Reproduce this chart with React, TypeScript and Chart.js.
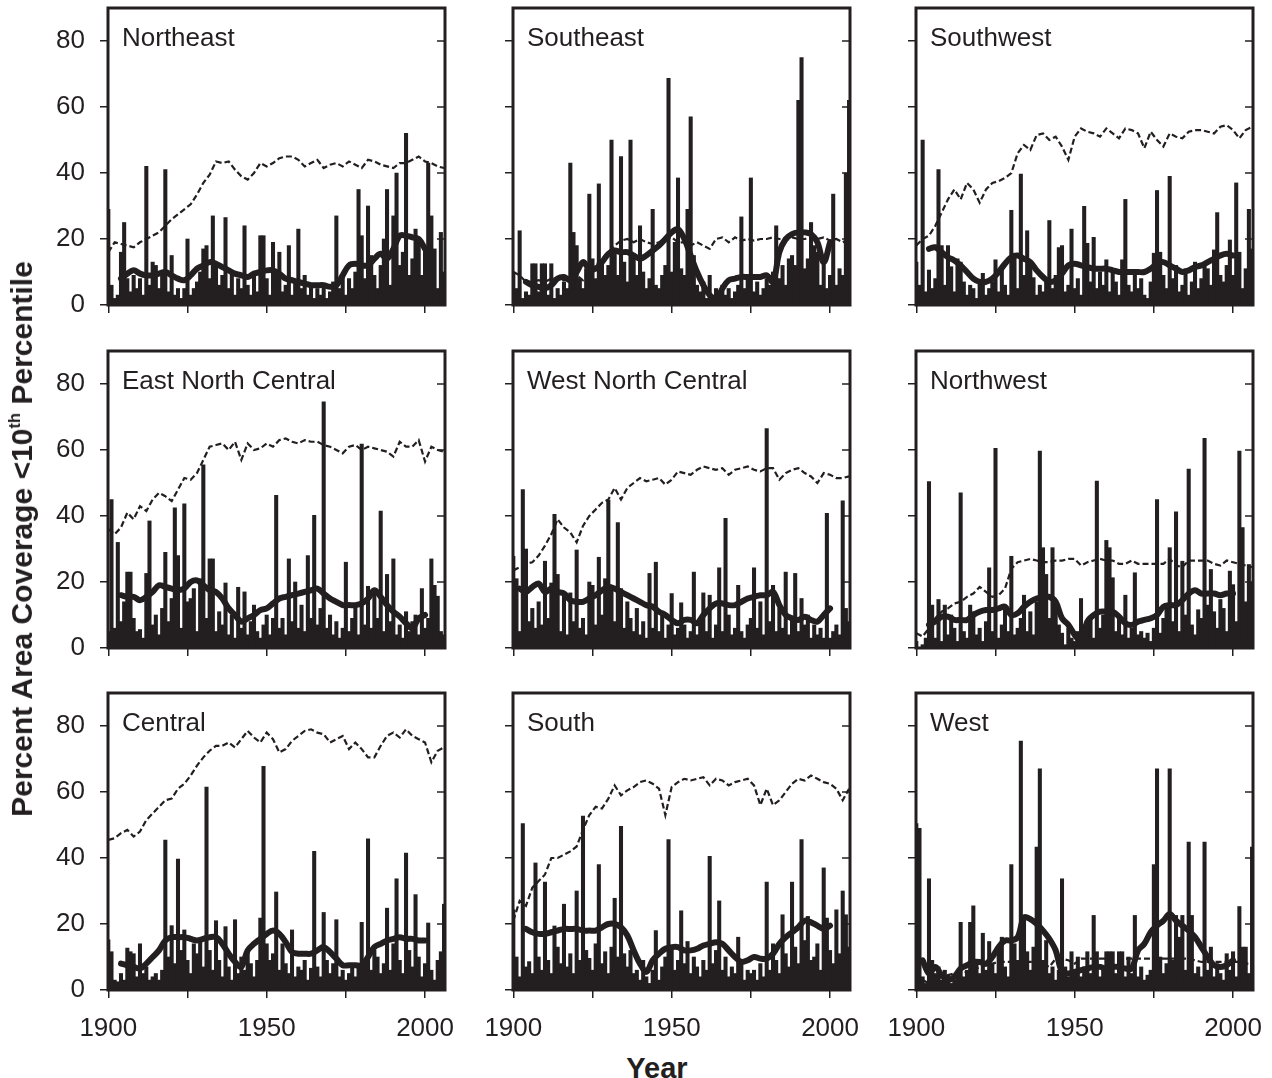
import React, { useEffect, useRef } from 'react';
import { Chart, registerables } from 'chart.js';

Chart.register(...registerables);

const INK = '#231f20';
const FONT = "'Liberation Sans', Arial, Helvetica, sans-serif";

// Categories
const YEARS = Array.from({ length: 107 }, (_, i) => 1900 + i);
const LINE_YEARS = Array.from({ length: 54 }, (_, i) => 1900 + 2 * i);
const X_TICKS = [1900, 1925, 1950, 1975, 2000];
const X_LABELS = [1900, 1950, 2000];
const Y_TICKS = [0, 20, 40, 60, 80];

// ---------- Northeast ----------
const NE_BARS = [
  29, 6, 2, 3, 16, 25, 8, 4, 9, 5,
  8, 3, 42, 6, 13, 12, 5, 9, 41, 4,
  15, 3, 5, 2, 5, 20, 3, 5, 7, 10,
  17, 18, 8, 27, 12, 6, 9, 26.5, 5, 10,
  3, 8, 5, 24, 6, 3, 9, 4, 21, 21,
  8, 3, 19, 10, 16, 4, 6, 18, 3, 7,
  23, 5, 9, 3, 6, 2, 5, 3, 6, 2,
  4, 7, 27, 5, 9, 3, 8, 5, 10, 35,
  21, 8, 30, 15, 9, 5, 12, 20, 35, 6,
  27, 40, 12, 16, 52, 9, 14, 23, 20, 9,
  17, 43, 27, 17, 5, 22, 10,
];
const NE_SMOOTH = [
  null, null, 8, 9.5, 10.5, 9.5, 9, 9, 9.5, 10,
  9, 8, 7.5, 9, 11, 12, 13, 12.5, 11.5, 10.5,
  9.5, 9, 8.5, 9.5, 10, 10.5, 10.5, 9.5, 8, 7.5,
  7, 6.5, 6, 6, 6, 5.5, 6, 9, 12, 12.5,
  12, 12, 14, 15.5, 14, 17, 21, 21, 20.5, 20,
  17, null, null, null,
];
const NE_DASHED = [
  16, 19, 18.5, 18, 17.5, 19, 20, 21, 22, 24,
  26, 27.5, 29, 30.5, 33.5, 37, 39.5, 43.5, 43, 43.5,
  41, 39, 38, 40, 43, 42, 43, 44.5, 45, 45,
  44, 42, 43, 44, 41.5, 42.5, 43, 42, 43.5, 42.5,
  41.5, 44, 43.5, 42.5, 42, 41.5, 43, 43, 44, 45,
  43.5, 43, 42, 41.5,
];

// ---------- Southeast ----------
const SE_BARS = [
  10, 5, 22.5, 2, 4, 3, 12.5, 12.5, 4, 12.5,
  12.5, 3, 12.5, 2, 5, 3, 7, 5, 43, 22,
  18, 8, 5, 11, 33.6, 14, 8, 36.7, 13, 9,
  12, 50, 16, 9, 45, 13, 7, 50, 15, 9,
  24, 10, 5, 8, 29, 6, 5, 9, 12, 68.7,
  10, 19, 38.5, 11, 9, 29, 57, 15, 6, 4,
  7, 2, 9, 3, 5, 2, 6, 3, 5, 2,
  4, 6, 26.7, 5, 9, 38.5, 4, 7, 3, 5,
  8, 6, 10, 24, 8, 12, 6, 14, 15, 12,
  62, 75, 11, 14, 25, 18, 16, 6, 14, 5,
  9, 33.6, 6, 11, 9, 40, 62,
];
const SE_SMOOTH = [
  null, null, 7, 6, 5.5, 5, 6, 8, 8.5, 7.5,
  10, 13, 11, 11, 13, 15.5, 16.5, 16, 16, 15,
  14, 15, 16.5, 18, 20, 22, 23, 20, 15, 10,
  6, 3, 1.5, 5, 7.5, 8, 8.5, 8.5, 8.5, 8.5,
  9, 7, 16, 20, 21.5, 22, 22, 21.5, 19, 13,
  19, null, null, null,
];
const SE_DASHED = [
  10, 9, 7, 7, 7.5, 7, 8, 8, 7.5, 8,
  9, 7.5, 10, 12, 14, 16, 18, 19.5, 20, 19,
  20, 19, 18.5, 19, 20, 20.5, 19, 19, 18, 19,
  18, 17, 20, 20.5, 19, 20.5, 19.5, 20, 19.5, 20,
  20, 20.5, 20, 19.5, 20.5, 20, 20, 20.5, 20, 20.5,
  19.5, 20, 19, 20,
];

// ---------- Southwest ----------
const SW_BARS = [
  13, 6, 50, 4, 10.6, 5, 8, 41, 18, 6,
  18, 11.6, 4, 14, 13, 7, 3, 6, 5, 2,
  7, 9.6, 3, 5, 7, 13.7, 4, 10.6, 6, 3,
  28.7, 15, 5, 39.7, 9, 22.5, 12, 8.3, 3, 6,
  4, 7, 25.6, 5, 9, 17.4, 18, 4, 6, 23,
  5, 8, 3, 29.9, 18.7, 7, 20.5, 5, 10, 6,
  13.7, 4, 10.6, 7, 3, 13.7, 32, 6, 4, 10,
  5, 8, 3, 2, 7, 15.7, 34.7, 16, 9, 5,
  39, 8, 12, 4, 6, 11, 3, 7, 13, 5,
  8, 12, 11, 6, 16.7, 28, 9, 7, 12, 19.7,
  9, 37, 16, 5, 11, 29, 17,
];
const SW_SMOOTH = [
  null, null, 17, 17.5, 16, 14.5, 13.5, 12, 10, 8,
  7, 7, 8, 10, 12.5, 14.5, 15, 14, 13, 10.5,
  8.5, 7, 7.5, 9.5, 12, 12.5, 12, 11.5, 11, 11,
  11, 10.5, 10, 10, 10, 10, 10, 11, 12.5, 13,
  12, 11, 10, 10.5, 11.5, 12, 13, 14, 15, 15.5,
  15, null, null, null,
];
const SW_DASHED = [
  18, 20, 21, 24, 28, 32, 35, 32, 37, 35,
  31, 35, 37, 37.5, 38.5, 40, 46, 48.5, 47, 51.5,
  52, 50, 51, 48, 44, 51, 53.5, 52.5, 52, 51,
  53.5, 52, 50.5, 53.5, 53, 52, 47.5, 52.5, 50, 48,
  52, 51, 50.5, 52.5, 53, 53, 52.5, 52, 54, 54.5,
  53, 50.5, 53, 54,
];

// ---------- East North Central ----------
const ENC_BARS = [
  5, 45, 6, 32, 8, 14, 23, 23, 9, 5,
  5.6, 3, 22.6, 38.5, 7, 10, 4, 12, 29, 8,
  15, 42.5, 28, 6, 43.7, 14, 15, 18, 5, 21,
  55.5, 9, 27, 27, 5, 11, 7, 19.7, 4, 10,
  3, 18.4, 6, 17, 4, 8, 13, 5, 3, 7,
  10, 4, 9, 46.3, 6, 9, 4, 27, 8, 20,
  6, 13, 5, 28, 9, 40.2, 7, 12, 74.6, 6,
  10, 4, 8, 3, 6, 26, 5, 9, 13, 4,
  61.8, 7, 18.7, 6, 18, 9, 41.5, 5, 22.3, 8,
  27, 4, 7, 3, 11, 5, 8, 10, 4, 18,
  6, 9, 27, 19, 15.7, 5, 4,
];
const ENC_SMOOTH = [
  null, null, 16, 15.5, 15.5, 14.5, 15.5, 17, 19, 18.5,
  18, 17.5, 18, 20, 20.5, 19, 17.5, 17, 15, 12,
  10, 8, 9, 10, 11.5, 12, 13.5, 15, 15.5, 16,
  16.5, 17, 17.5, 18, 16.5, 15, 14, 13, 13, 13,
  13.5, 15, 17.5, 15.5, 13, 11, 9.5, 7.5, 6, 9,
  10, null, null, null,
];
const ENC_DASHED = [
  36, 34.5, 36.5, 41, 39, 43, 41.5, 45, 47, 46,
  44.5, 48, 51.5, 51, 53, 57, 61, 61.5, 62, 60,
  62.5, 57, 62, 60, 60.5, 62, 61, 63, 63.5, 62.5,
  62, 63, 62.5, 62.5, 61.5, 61, 60, 59, 61, 61.5,
  60, 61, 60.5, 60, 59.5, 58, 62.5, 61, 61, 63,
  56.5, 61, 60, 59.5,
];

// ---------- West North Central ----------
const WNC_BARS = [
  27.8, 21, 5, 48, 30, 8, 12, 6, 14, 7,
  26.3, 9, 19.7, 40.5, 22.3, 5, 16, 4, 16.7, 8,
  29.7, 6, 9, 4, 20, 19, 7, 27.5, 10, 21,
  44.8, 19, 8, 38, 18, 6, 14, 9, 5, 12,
  4, 8, 3, 22.6, 6, 26, 5, 10, 3, 7,
  16.5, 4, 6, 13.7, 7, 3, 5, 23, 4, 8,
  16.7, 5, 16, 3, 7, 24.3, 5, 39.3, 10, 4,
  6, 19, 5, 3, 7, 9, 24.3, 6, 14, 4,
  66.5, 8, 19, 5, 12, 6, 23, 4, 9, 22.6,
  5, 15, 7, 10, 3, 7, 4, 6, 3, 40.8,
  3, 5, 7, 4, 44.6, 12, 8,
];
const WNC_SMOOTH = [
  null, 18, 17, 18.5, 19.5, 17, 18, 17, 16.5, 14.5,
  14, 14, 15, 16, 17.5, 18.5, 18, 17, 16, 15,
  14, 13, 12.5, 11, 10, 8.5, 7.5, 8.5, 8.5, 7.5,
  10, 12, 13.5, 13.5, 13, 13, 14, 15, 15.5, 16,
  16, 17, 13, 10, 9, 8.5, 9.5, 8.5, 8, 10,
  12, null, null, null,
];
const WNC_DASHED = [
  23.5, 24.5, 25.5, 26, 28, 31, 34.5, 39, 36.5, 35,
  32, 37, 40, 42, 44, 45, 48.5, 45, 48.5, 50,
  51.5, 50.5, 51, 51.5, 49.5, 51, 53.5, 53, 52.5, 54,
  55, 54.5, 54, 54.5, 52.5, 54, 54.5, 55, 54, 53.5,
  54.5, 54.5, 51, 53, 54, 54.5, 53, 52, 50, 53,
  52.5, 51.5, 51.5, 52,
];

// ---------- Northwest ----------
const NW_BARS = [
  2, 0, 1, 3, 50.4, 13, 3, 14.7, 2, 13,
  4, 10, 6, 2, 47, 5, 3, 13, 11, 4,
  6, 2, 8, 24.3, 5, 60.5, 3, 7, 13, 5,
  27.8, 4, 6, 9, 16, 5, 11, 4, 14, 59.7,
  30.4, 22.3, 9, 30.4, 14, 7, 4.5, 1, 6, 3,
  2, 5, 15, 4, 7, 9, 3, 50.6, 6, 10,
  32.6, 30.4, 21.3, 5, 10, 4, 16, 3, 6, 22.8,
  4, 5, 3, 4.5, 2, 6, 45, 4.5, 9, 13,
  30.4, 8, 41.3, 5, 26.3, 10, 54.2, 7, 4, 11.6,
  9, 63.5, 13, 23.8, 11, 6, 14.7, 12, 5, 23.3,
  19.2, 8, 59.7, 36.5, 14, 25.3, 20,
];
const NW_SMOOTH = [
  null, null, 7, 8, 9.5, 9.5, 8.5, 8.5, 8.5, 10,
  11, 11.5, 11.5, 12, 12.5, 10, 10.5, 12.5, 14, 15,
  15.5, 15.5, 14, 9, 7, 4, 2, 8, 10, 11,
  11, 11, 9.5, 7.5, 7, 8, 8.5, 9, 10, 12.5,
  13, 13, 14.5, 16.5, 17.5, 16.5, 16.5, 16.5, 16, 16.5,
  16.5, null, null, null,
];
const NW_DASHED = [
  4.5, 3.5, 6, 9, 11, 12, 13.5, 14, 15.5, 16.5,
  18.5, 17, 15.5, 16, 18, 24, 26, 26.5, 27, 26.5,
  26, 26, 26.5, 26.5, 27, 27, 25, 26, 26.5, 27,
  26.5, 26.5, 25.5, 25.5, 26.5, 25.5, 25.5, 25.5, 25.5, 25.5,
  27, 25, 24.5, 26.5, 26.5, 26.5, 26.5, 25.5, 25, 26.5,
  26, 25.5, 25, 24.5,
];

// ---------- Central ----------
const CEN_BARS = [
  15.2, 11.6, 3, 2.5, 5, 3, 12.7, 11.6, 11, 4,
  14, 5, 7, 3, 4, 5, 3, 6, 45.4, 10,
  19.5, 8, 39.7, 12, 18.2, 9, 5, 14, 11, 15,
  7, 61.5, 12, 6, 21, 9, 4, 19.2, 7, 3,
  21.3, 5, 10, 6, 12, 8, 4, 9, 21.8, 67.8,
  14, 9, 11, 29.7, 6, 14, 8, 5, 18.2, 4,
  7, 6, 9, 3, 6.6, 42, 7, 4, 23.5, 9,
  5, 8, 21.3, 4, 6, 3, 5, 8, 4, 7,
  20.5, 9, 45.8, 6, 12, 10, 5, 8, 24.8, 6,
  14, 33.7, 9, 5, 41.5, 12, 7, 28.9, 10, 4,
  8, 20.3, 6, 3, 9, 11.6, 26,
];
const CEN_SMOOTH = [
  null, null, 8, 7.5, 7, 6.5, 8, 10, 12, 15,
  16, 16, 16, 15.5, 15, 15.5, 16, 16, 14, 11,
  8.5, 7, 12, 14, 15.5, 17, 18, 17, 14.5, 11.5,
  11, 11, 11, 12, 13, 11.5, 9.5, 7.5, 7.5, 7.5,
  7.5, 10, 13, 14, 15, 15.5, 16, 15.5, 15.5, 15,
  15, null, null, null,
];
const CEN_DASHED = [
  45.5, 46, 47.5, 48.5, 46.5, 48, 51.5, 53.5, 55.5, 57.5,
  58, 61, 62.5, 65, 68, 70.5, 72.5, 74, 74, 75,
  73.5, 76, 78.5, 76.5, 75, 78, 76, 72, 73, 75.5,
  77, 78.5, 79, 78, 77.5, 75, 76, 77, 73, 75,
  73, 70.5, 70.5, 74, 77, 78, 76.5, 79, 77, 76,
  75, 69, 72.5, 73.5,
];

// ---------- South ----------
const SOUTH_BARS = [
  24.3, 10, 4, 50.4, 7, 8.6, 5, 38.5, 10, 6,
  32.7, 9, 5, 19.4, 13, 8, 26, 7, 11, 5,
  30, 9, 52.7, 12, 9.6, 6, 14, 38, 8, 11.6,
  5, 13, 27.8, 10, 49.6, 11, 7, 12, 5, 6,
  3, 9, 4, 2, 6, 18, 3, 7, 10, 45.6,
  13, 6, 9, 24, 8, 14.7, 5, 10, 7, 4,
  9, 6, 40.5, 8, 12, 27, 6, 10, 4, 7,
  5, 16, 8, 3, 6, 5, 6, 3, 8, 4,
  32.7, 6, 14, 9, 5, 22.8, 11, 7, 32.7, 13,
  8, 45.6, 15, 22.3, 9, 10, 14, 6, 37, 21.8,
  12, 8, 24.3, 11, 30, 22.8, 13,
];
const SOUTH_SMOOTH = [
  null, null, 18.5, 17.5, 17, 17, 17.5, 18, 18.5, 18.5,
  18.5, 18, 18, 18, 19, 20, 20, 19, 16.5, 12,
  8, 5.5, 9, 11, 12.5, 13, 13, 12, 12, 12.5,
  13.5, 14, 14.5, 14, 12, 10, 8.5, 9, 10, 9.5,
  9.5, 11, 14, 16, 17.5, 19, 21, 20.5, 19.5, 18.5,
  19.5, null, null, null,
];
const SOUTH_DASHED = [
  21, 27, 25.5, 31, 33, 35, 40, 40, 41, 42,
  43.5, 48.5, 53, 55.5, 55, 58, 62, 59, 60.5, 61.5,
  63, 63.5, 62.5, 61, 53, 61.5, 63, 64, 63.5, 64,
  64.5, 62, 64, 63.5, 62, 63, 63.5, 64, 62, 56,
  61, 56, 57.5, 60, 62.5, 64, 63.5, 65, 64, 63,
  62.5, 61, 57.5, 61,
];

// ---------- West ----------
const WEST_BARS = [
  50.4, 49, 4, 2, 33.7, 9, 5, 7, 3, 6,
  4.5, 2, 3, 5, 20.5, 4, 6, 20.5, 25.5, 8,
  5, 17.2, 6, 14.7, 8, 5, 13, 16, 7, 4,
  38, 14, 9, 75.4, 22.3, 11.6, 6, 13, 43.3, 67,
  9, 15, 5, 7, 3, 6, 33.7, 7, 4, 11.6,
  5, 10, 4, 7, 11.6, 5, 22.6, 11.6, 4, 6,
  11.6, 11.6, 11.6, 5, 11.6, 11.6, 4, 10, 5, 22.6,
  4, 7, 3, 4.5, 6, 38, 67, 10, 5, 8,
  67, 9, 22.6, 16, 22.6, 6, 44.8, 22.6, 5, 7,
  4, 44.8, 6, 13, 4, 8, 5, 3, 11, 6,
  11.6, 4, 25.3, 13, 13, 5, 43.3,
];
const WEST_SMOOTH = [
  null, 9, 5, 7, 4.5, 3, 4, 6.5, 7.5, 8.5,
  8.5, 8, 10, 13, 15, 15, 16, 22, 21.5, 20,
  18, 15.5, 12, 5.5, 5, 5.5, 6, 6.5, 7, 7,
  6.5, 7, 7, 6.5, 6.5, 12, 14, 17.5, 19.5, 21,
  23, 21, 19.5, 18, 16, 13, 10, 7.5, 7, 7.5,
  9, null, null, null,
];
const WEST_DASHED = [
  5, 3, 2, 3, 4, 4.5, 5, 5, 5.5, 6,
  7, 7.5, 8, 8.5, 8.5, 8.5, 8.5, 8.5, 8.5, 8.5,
  8, 7, 9.5, 9.5, 9, 8, 9.5, 9.5, 9.5, 9.5,
  9.5, 9.5, 9.5, 9.5, 9.5, 9.5, 9.5, 9.5, 9.5, 9.5,
  9.5, 9.5, 9.5, 9.5, 9, 8.5, 8.5, 8.5, 8.5, 8.5,
  8.5, 8.5, 8, 8,
];

const PANELS = [
  { title: 'Northeast', bars: NE_BARS, smooth: NE_SMOOTH, dashed: NE_DASHED },
  { title: 'Southeast', bars: SE_BARS, smooth: SE_SMOOTH, dashed: SE_DASHED },
  { title: 'Southwest', bars: SW_BARS, smooth: SW_SMOOTH, dashed: SW_DASHED },
  { title: 'East North Central', bars: ENC_BARS, smooth: ENC_SMOOTH, dashed: ENC_DASHED },
  { title: 'West North Central', bars: WNC_BARS, smooth: WNC_SMOOTH, dashed: WNC_DASHED },
  { title: 'Northwest', bars: NW_BARS, smooth: NW_SMOOTH, dashed: NW_DASHED },
  { title: 'Central', bars: CEN_BARS, smooth: CEN_SMOOTH, dashed: CEN_DASHED },
  { title: 'South', bars: SOUTH_BARS, smooth: SOUTH_SMOOTH, dashed: SOUTH_DASHED },
  { title: 'West', bars: WEST_BARS, smooth: WEST_SMOOTH, dashed: WEST_DASHED },
];

// Layout
const AREA_LEFT = [108, 513, 916];
const AREA_TOP = [8, 351, 693];
const AREA_W = 337;
const AREA_H = 297;
const AXIS_W = 100;
const AXIS_H = 60;
const PAD_T = 12;
const PAD_R = 40;
const X_MIN = 1899.9;
const X_MAX = 2006.3;

const framePlugin = {
  id: 'panelFrame',
  afterDatasetsDraw(chart: any) {
    const { ctx, chartArea: a, scales } = chart;
    ctx.save();
    ctx.strokeStyle = INK;
    ctx.lineWidth = 3;
    ctx.strokeRect(a.left, a.top, a.right - a.left, a.bottom - a.top);
    ctx.lineWidth = 1.5;
    for (const v of Y_TICKS.slice(1)) {
      const y = scales.y.getPixelForValue(v);
      ctx.beginPath();
      ctx.moveTo(a.right, y);
      ctx.lineTo(a.right - 8, y);
      ctx.stroke();
    }
    ctx.restore();
  },
};

function zeroPadding(s: any) {
  s.paddingTop = 0;
  s.paddingBottom = 0;
  s.paddingLeft = 0;
  s.paddingRight = 0;
}

function Panel({ idx }: { idx: number }) {
  const ref = useRef<HTMLCanvasElement | null>(null);
  const col = idx % 3;
  const row = Math.floor(idx / 3);
  const p = PANELS[idx];
  const W = AXIS_W + AREA_W + PAD_R;
  const H = PAD_T + AREA_H + AXIS_H;
  const left = AREA_LEFT[col] - AXIS_W;
  const top = AREA_TOP[row] - PAD_T;

  useEffect(() => {
    const showY = col === 0;
    const showX = row === 2;
    const tickFont = { family: FONT, size: 26 };
    const chart = new Chart(ref.current as HTMLCanvasElement, {
      type: 'bar',
      data: {
        datasets: [
          {
            type: 'line',
            data: LINE_YEARS.map((x, i) => ({ x, y: p.smooth[i] })),
            borderColor: INK,
            borderWidth: 6,
            pointRadius: 0,
            tension: 0.35,
            spanGaps: false,
            borderCapStyle: 'round',
            borderJoinStyle: 'round',
            order: 0,
          },
          {
            type: 'line',
            data: LINE_YEARS.map((x, i) => ({ x, y: p.dashed[i] })),
            borderColor: INK,
            borderWidth: 2.2,
            borderDash: [6, 3],
            pointRadius: 0,
            tension: 0,
            order: 1,
          },
          {
            type: 'bar',
            data: YEARS.map((x, i) => ({ x, y: p.bars[i] })),
            backgroundColor: INK,
            borderWidth: 0,
            barThickness: 3.4,
            order: 2,
          },
        ],
      } as any,
      options: {
        responsive: false,
        animation: false,
        devicePixelRatio: 1,
        events: [],
        layout: { padding: { left: 0, top: PAD_T, right: PAD_R, bottom: 0 } },
        plugins: { legend: { display: false }, tooltip: { enabled: false } },
        scales: {
          x: {
            type: 'linear',
            min: X_MIN,
            max: X_MAX,
            offset: false,
            afterBuildTicks: (s: any) => {
              s.ticks = X_TICKS.map((v) => ({ value: v }));
            },
            afterFit: (s: any) => {
              s.height = AXIS_H;
              zeroPadding(s);
            },
            grid: {
              display: true,
              offset: false,
              drawOnChartArea: false,
              drawTicks: true,
              tickLength: 8,
              lineWidth: 1.5,
              color: INK,
              tickColor: INK,
            },
            border: { display: false },
            ticks: {
              autoSkip: false,
              maxRotation: 0,
              padding: 15,
              color: INK,
              font: tickFont,
              callback: (v: any) => (showX && X_LABELS.includes(Number(v)) ? String(v) : ''),
            },
          },
          y: {
            type: 'linear',
            min: 0,
            max: 90,
            afterBuildTicks: (s: any) => {
              s.ticks = Y_TICKS.map((v) => ({ value: v }));
            },
            afterFit: (s: any) => {
              s.width = AXIS_W;
              zeroPadding(s);
            },
            grid: {
              display: true,
              drawOnChartArea: false,
              drawTicks: true,
              tickLength: 8,
              lineWidth: 1.5,
              color: INK,
              tickColor: INK,
            },
            border: { display: false },
            ticks: {
              padding: 15,
              color: INK,
              font: tickFont,
              callback: (v: any) => (showY ? String(v) : ''),
            },
          },
        },
      } as any,
      plugins: [framePlugin],
    });
    return () => chart.destroy();
  }, [idx]);

  return (
    <>
      <canvas
        ref={ref}
        width={W}
        height={H}
        style={{ position: 'absolute', left, top, width: W, height: H }}
      />
      <div
        style={{
          position: 'absolute',
          left: AREA_LEFT[col] + 14,
          top: AREA_TOP[row] + 16,
          font: `26px ${FONT}`,
          lineHeight: 1,
          color: INK,
          whiteSpace: 'nowrap',
        }}
      >
        {p.title}
      </div>
    </>
  );
}

export default function App() {
  return (
    <div
      style={{
        position: 'absolute',
        left: 0,
        top: 0,
        width: 1272,
        height: 1078,
        background: '#ffffff',
        overflow: 'hidden',
      }}
    >
      {PANELS.map((_, i) => (
        <Panel key={i} idx={i} />
      ))}
      <div
        style={{
          position: 'absolute',
          left: 22,
          top: 539,
          transform: 'translate(-50%, -50%) rotate(-90deg)',
          font: `bold 30px ${FONT}`,
          lineHeight: 1,
          color: INK,
          whiteSpace: 'nowrap',
        }}
      >
        Percent Area Coverage &lt;10<sup style={{ fontSize: '0.55em', verticalAlign: '0.75em', lineHeight: 0 }}>th</sup> Percentile
      </div>
      <div
        style={{
          position: 'absolute',
          left: 657,
          top: 1068,
          transform: 'translate(-50%, -50%)',
          font: `bold 29px ${FONT}`,
          lineHeight: 1,
          color: INK,
          whiteSpace: 'nowrap',
        }}
      >
        Year
      </div>
    </div>
  );
}
